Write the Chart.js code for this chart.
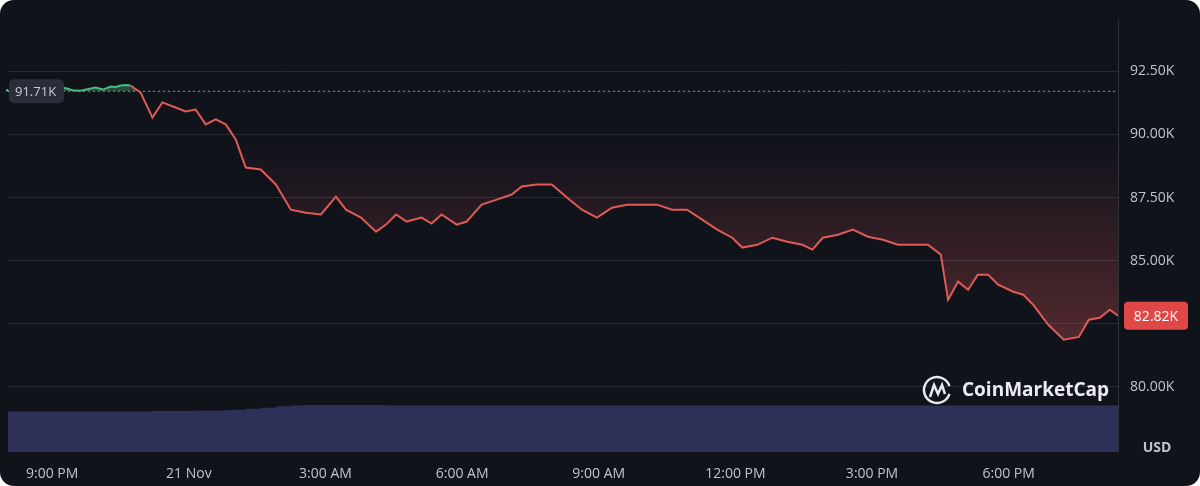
<!DOCTYPE html>
<html><head><meta charset="utf-8">
<script src="https://cdn.jsdelivr.net/npm/chart.js@4"></script>
<style>
html,body{margin:0;padding:0;background:#fff;}
#wrap{position:relative;width:1200px;height:486px;background:#11131b;border-radius:14px;overflow:hidden;}
canvas{display:block;}
</style></head><body>
<div id="wrap"><canvas id="c" width="1200" height="486"></canvas></div>
<script>
const hours = [0.03,0.29,0.45,0.62,0.80,0.95,1.12,1.29,1.45,1.62,1.80,1.95,2.12,2.28,2.40,2.50,2.62,2.72,2.94,3.20,3.42,3.71,3.93,4.15,4.37,4.59,4.81,5.03,5.25,5.58,5.91,6.24,6.57,6.90,7.23,7.45,7.78,8.11,8.33,8.55,8.78,9.11,9.33,9.55,9.88,10.10,10.43,10.76,11.09,11.31,11.64,11.97,12.30,12.63,12.96,13.29,13.62,13.95,14.28,14.61,14.94,15.27,15.60,15.93,16.15,16.48,16.81,17.14,17.47,17.69,17.92,18.25,18.58,18.91,19.24,19.57,19.90,20.23,20.51,20.67,20.89,21.11,21.32,21.55,21.77,22.10,22.32,22.54,22.87,23.21,23.54,23.76,24.00,24.22,24.40];
const prices = [91.71,91.74,91.82,91.76,91.86,91.80,91.76,91.84,91.75,91.73,91.80,91.86,91.78,91.90,91.88,91.94,91.96,91.94,91.67,90.67,91.27,91.07,90.91,90.99,90.40,90.60,90.40,89.80,88.69,88.61,88.02,87.02,86.90,86.83,87.54,87.02,86.71,86.15,86.43,86.83,86.55,86.71,86.47,86.83,86.43,86.55,87.22,87.42,87.62,87.94,88.02,88.02,87.50,87.02,86.71,87.10,87.22,87.22,87.22,87.02,87.02,86.63,86.23,85.91,85.52,85.63,85.91,85.75,85.63,85.44,85.91,86.03,86.23,85.95,85.83,85.63,85.63,85.63,85.24,83.45,84.17,83.85,84.44,84.44,84.05,83.77,83.65,83.25,82.46,81.87,81.98,82.66,82.74,83.06,82.82];
const volume = [0.86,0.86,0.86,0.86,0.86,0.86,0.86,0.86,0.86,0.86,0.86,0.86,0.86,0.86,0.86,0.86,0.86,0.86,0.86,0.87,0.87,0.87,0.87,0.88,0.88,0.88,0.89,0.90,0.92,0.94,0.97,0.99,1.0,1.0,1.0,1.0,1.0,1.0,0.99,0.99,0.99,0.99,0.99,0.99,0.99,0.99,0.99,0.99,0.99,0.99,0.99,0.99,0.99,0.99,0.99,0.99,0.99,0.99,0.99,0.99,0.99,0.99,0.99,0.99,0.99,0.99,0.99,0.99,0.99,0.99,0.99,0.99,0.99,0.99,0.99,0.99,0.99,0.99,0.99,0.99,0.99,0.99,0.99,0.99,0.99,0.99,0.99,0.99,0.99,0.99,0.99,0.99,0.99,0.99,1.05];
const tickHours = [1,4,7,10,13,16,19,22];
const tickLabels = ['9:00 PM','21 Nov','3:00 AM','6:00 AM','9:00 AM','12:00 PM','3:00 PM','6:00 PM'];
const openPrice = 91.71, lastPrice = 82.82;
const priceTicks = [80,82.5,85,87.5,90,92.5];

const pts = hours.map((h,i)=>({x:h,y:prices[i]}));
const vpts = hours.map((h,i)=>({x:h,y:volume[i]}));
const RED='#e05a58', GREEN='#4cb97f';

const overlay = {
  id:'overlay',
  beforeDatasetsDraw(chart){
    const {ctx,chartArea:a,scales:{y}}=chart;
    const yy=y.getPixelForValue(openPrice);
    ctx.save();ctx.strokeStyle='#8a8f9c';ctx.setLineDash([2,3]);ctx.lineWidth=1;
    ctx.beginPath();ctx.moveTo(a.left,yy);ctx.lineTo(a.right,yy);ctx.stroke();ctx.restore();
  },
  afterDraw(chart){
    const {ctx,chartArea:a,scales:{y}}=chart;
    ctx.save();
    let yy=y.getPixelForValue(openPrice);
    ctx.fillStyle='#2a2e39';
    rr(ctx,9,yy-12,55,24,5);ctx.fill();
    ctx.fillStyle='#c9ccd3';ctx.font='13px "Open Sans", sans-serif';ctx.textBaseline='middle';ctx.textAlign='left';
    ctx.fillText('91.71K',15,yy+1);
    ctx.fillStyle='#aaa';ctx.fillRect(6,yy-2,2,2);
    yy=y.getPixelForValue(lastPrice);
    ctx.fillStyle='#e04848';rr(ctx,1124,yy-14,64,28,4);ctx.fill();
    ctx.fillStyle='#fff';ctx.font='14px "Open Sans", sans-serif';ctx.textAlign='center';
    ctx.fillText((lastPrice).toFixed(2)+'K',1156,yy+1);
    ctx.fillStyle='#c0c4cc';ctx.font='bold 14px "Open Sans", sans-serif';ctx.fillText('USD',1157,448);
    ctx.strokeStyle='#e8e8ee';ctx.lineWidth=2.5;
    ctx.beginPath();ctx.arc(937,390,13,0.3,2*Math.PI-0.3);ctx.stroke();
    ctx.beginPath();ctx.moveTo(930,397);ctx.lineTo(934,385);ctx.lineTo(938,394);ctx.lineTo(942,385);ctx.lineTo(945,394);ctx.stroke();
    ctx.fillStyle='#ececf0';ctx.font='bold 19px "Open Sans", sans-serif';ctx.textAlign='left';
    ctx.fillText('CoinMarketCap',962,391);
    ctx.restore();
  }
};
function rr(ctx,x,y,w,h,r){ctx.beginPath();ctx.moveTo(x+r,y);ctx.arcTo(x+w,y,x+w,y+h,r);ctx.arcTo(x+w,y+h,x,y+h,r);ctx.arcTo(x,y+h,x,y,r);ctx.arcTo(x,y,x+w,y,r);ctx.closePath();}

new Chart(document.getElementById('c'),{
  type:'line',
  data:{datasets:[
    {data:pts,yAxisID:'y',borderWidth:2,pointRadius:0,tension:0,
     segment:{borderColor:c=>(c.p0.parsed.y>=openPrice&&c.p1.parsed.y>=openPrice)?GREEN:RED},
     borderColor:RED,
     fill:{target:{value:openPrice},above:'rgba(76,185,127,0.35)',
       below:(ctx)=>{const {chart}=ctx;const a=chart.chartArea;if(!a)return 'rgba(224,90,88,0.2)';
         const g=chart.ctx.createLinearGradient(0,a.top+120,0,a.bottom-120);g.addColorStop(0,'rgba(224,90,88,0)');g.addColorStop(1,'rgba(224,90,88,0.3)');return g;}},
     order:1},
    {data:vpts,yAxisID:'v',borderWidth:0,pointRadius:0,stepped:true,fill:'origin',backgroundColor:'#2d3158',borderColor:'#2d3158',order:2}
  ]},
  options:{responsive:false,animation:false,
    layout:{padding:{left:8,top:3,right:0,bottom:0}},
    plugins:{legend:{display:false},tooltip:{enabled:false}},
    scales:{
      x:{type:'linear',min:0.03,max:24.4,
        afterBuildTicks:s=>{s.ticks=tickHours.map(v=>({value:v}));},
        ticks:{color:'#c0c4cc',font:{size:14,family:'"Open Sans", sans-serif'},maxRotation:0,autoSkip:false,padding:6,
          callback:(v)=>tickLabels[tickHours.indexOf(v)]},
        grid:{display:false},border:{display:false},
        afterFit:s=>{s.height=34;}},
      y:{position:'right',min:77.42,max:94.52,
        afterBuildTicks:s=>{s.ticks=priceTicks.map(v=>({value:v}));},
        ticks:{color:'#c0c4cc',font:{size:14,family:'"Open Sans", sans-serif'},padding:12,callback:v=>v.toFixed(2)+'K'},
        grid:{color:'#262a35',drawTicks:false},border:{display:true,color:'#2e323d'},
        afterFit:s=>{s.width=82;}},
      v:{display:false,min:0,max:9.17}
    }
  },
  plugins:[overlay]
});
</script></body></html>
